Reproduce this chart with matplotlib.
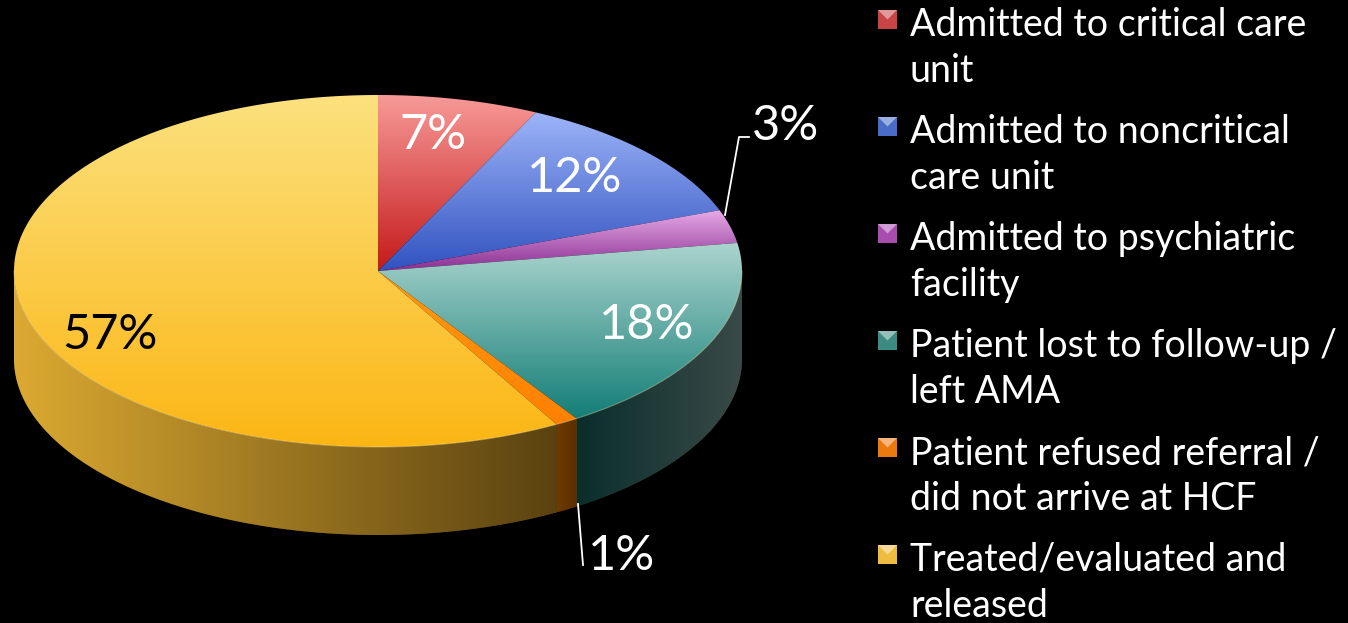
import numpy as np
import matplotlib.pyplot as plt
from matplotlib.patches import Polygon
from matplotlib.colors import to_rgb

# data
categories = [
    "Admitted to critical care\nunit",
    "Admitted to noncritical\ncare unit",
    "Admitted to psychiatric\nfacility",
    "Patient lost to follow-up /\nleft AMA",
    "Patient refused referral /\ndid not arrive at HCF",
    "Treated/evaluated and\nreleased",
]
values = [7, 12, 3, 18, 1, 57]
pct_labels = ["7%", "12%", "3%", "18%", "1%", "57%"]

# colours: top face light -> dark, side face left -> right
top_light = ["#F79A98", "#9DB4F8", "#E6AAE6", "#ABD4CE", "#FF9A12", "#FCE17E"]
top_dark = ["#C41A1A", "#3153C0", "#8A2E92", "#137E76", "#FF8000", "#FBB614"]
side_light = ["#8A1010", "#1E2F70", "#501858", "#0A2E2B", "#6E3A00", "#DCAA32"]
side_dark = ["#5A0808", "#101A40", "#300C34", "#3A4A48", "#5A3000", "#5A4210"]
marker_cols = ["#C84446", "#4A6CC8", "#A84CB0", "#3C8A82", "#EC7810", "#EEBC40"]

W, H = 1348, 623
fig = plt.figure(figsize=(W / 100, H / 100), dpi=100, facecolor="black")
ax = fig.add_axes([0, 0, 1, 1])
ax.set_facecolor("black")

cx, cy, rx, ry, depth = 378, 271, 364, 176, 88


def pt(theta, dy=0.0):
    t = np.radians(theta)
    return np.column_stack([cx + rx * np.cos(t), cy - ry * np.sin(t) + dy])


def gradient_fill(xy, c0, c1, horizontal=False, zorder=1):
    patch = Polygon(xy, closed=True, facecolor="none", edgecolor="none", zorder=zorder)
    ax.add_patch(patch)
    x0, y0 = xy.min(axis=0)
    x1, y1 = xy.max(axis=0)
    f = np.linspace(0, 1, 256)[:, None]
    cols = (1 - f) * np.array(to_rgb(c0)) + f * np.array(to_rgb(c1))
    img = cols[None, :, :] if horizontal else cols[:, None, :]
    im = ax.imshow(img, extent=(x0, x1, y1, y0), origin="upper", aspect="auto",
                   interpolation="bilinear", zorder=zorder)
    im.set_clip_path(patch)


angles = 90 - np.concatenate([[0], np.cumsum(values)]) / np.sum(values) * 360

# solid backing under the side walls, hides seams between slices
th = np.linspace(-180, 0, 300)
backing = np.vstack([pt(th), pt(th[::-1], depth)])
ax.add_patch(Polygon(backing, closed=True, facecolor="#4A3A14", edgecolor="none", zorder=0.5))

# side walls (front half only)
for i in range(len(values)):
    a_start, a_end = angles[i], angles[i + 1]
    lo, hi = max(a_end, -180), min(a_start, 0)
    if hi <= lo:
        continue
    th = np.linspace(lo, hi, 120)
    xy = np.vstack([pt(th), pt(th[::-1], depth)])
    gradient_fill(xy, side_light[i], side_dark[i], horizontal=True, zorder=1)

# top faces
for i in range(len(values)):
    th = np.linspace(angles[i], angles[i + 1], 200)
    xy = np.vstack([[cx, cy], pt(th)])
    gradient_fill(xy, top_light[i], top_dark[i], zorder=2)

# subtle rim highlight along the front edge
th = np.linspace(-180, 0, 300)
rim = pt(th)
ax.plot(rim[:, 0], rim[:, 1], color="#FFF2C0", lw=0.8, alpha=0.35, zorder=3)

# percentage labels
pct_font = ["Liberation Sans Narrow", "Lato", "DejaVu Sans"]
label_pos = [(433, 135), (575, 178), (786, 126), (647, 325), (622, 556), (110, 335)]
label_col = ["white", "white", "white", "white", "white", "black"]
for txt, (x, y), c in zip(pct_labels, label_pos, label_col):
    ax.text(x, y, txt, color=c, fontsize=35, family=pct_font,
            ha="center", va="center", zorder=5)

# leader lines
ax.plot([725, 739, 749], [215, 137, 137], color="white", lw=1.3, zorder=4)
ax.plot([578, 583], [504, 565], color="white", lw=1.3, zorder=4)

# legend
leg_font = ["Lato", "DejaVu Sans"]
base0, step, line_gap = 36, 107, 46
for i, (cat, mc) in enumerate(zip(categories, marker_cols)):
    b = base0 + i * step
    mx0, my0, s = 878, b - 26, 19
    sq = np.array([[mx0, my0], [mx0 + s, my0], [mx0 + s, my0 + s], [mx0, my0 + s]])
    ax.add_patch(Polygon(sq, closed=True, facecolor=mc, edgecolor="none", zorder=5))
    light = 0.55 * np.array(to_rgb(mc)) + 0.45
    tri = np.array([[mx0, my0], [mx0 + s, my0], [mx0 + s / 2, my0 + s / 2]])
    ax.add_patch(Polygon(tri, closed=True, facecolor=light, edgecolor="none", zorder=6))
    for j, line in enumerate(cat.split("\n")):
        ax.text(910, b + j * line_gap, line, color="white", fontsize=27,
                family=leg_font, ha="left", va="baseline", zorder=5)

ax.set_xlim(0, W)
ax.set_ylim(H, 0)
ax.axis("off")
fig.savefig("out.png", dpi=100, facecolor="black")
